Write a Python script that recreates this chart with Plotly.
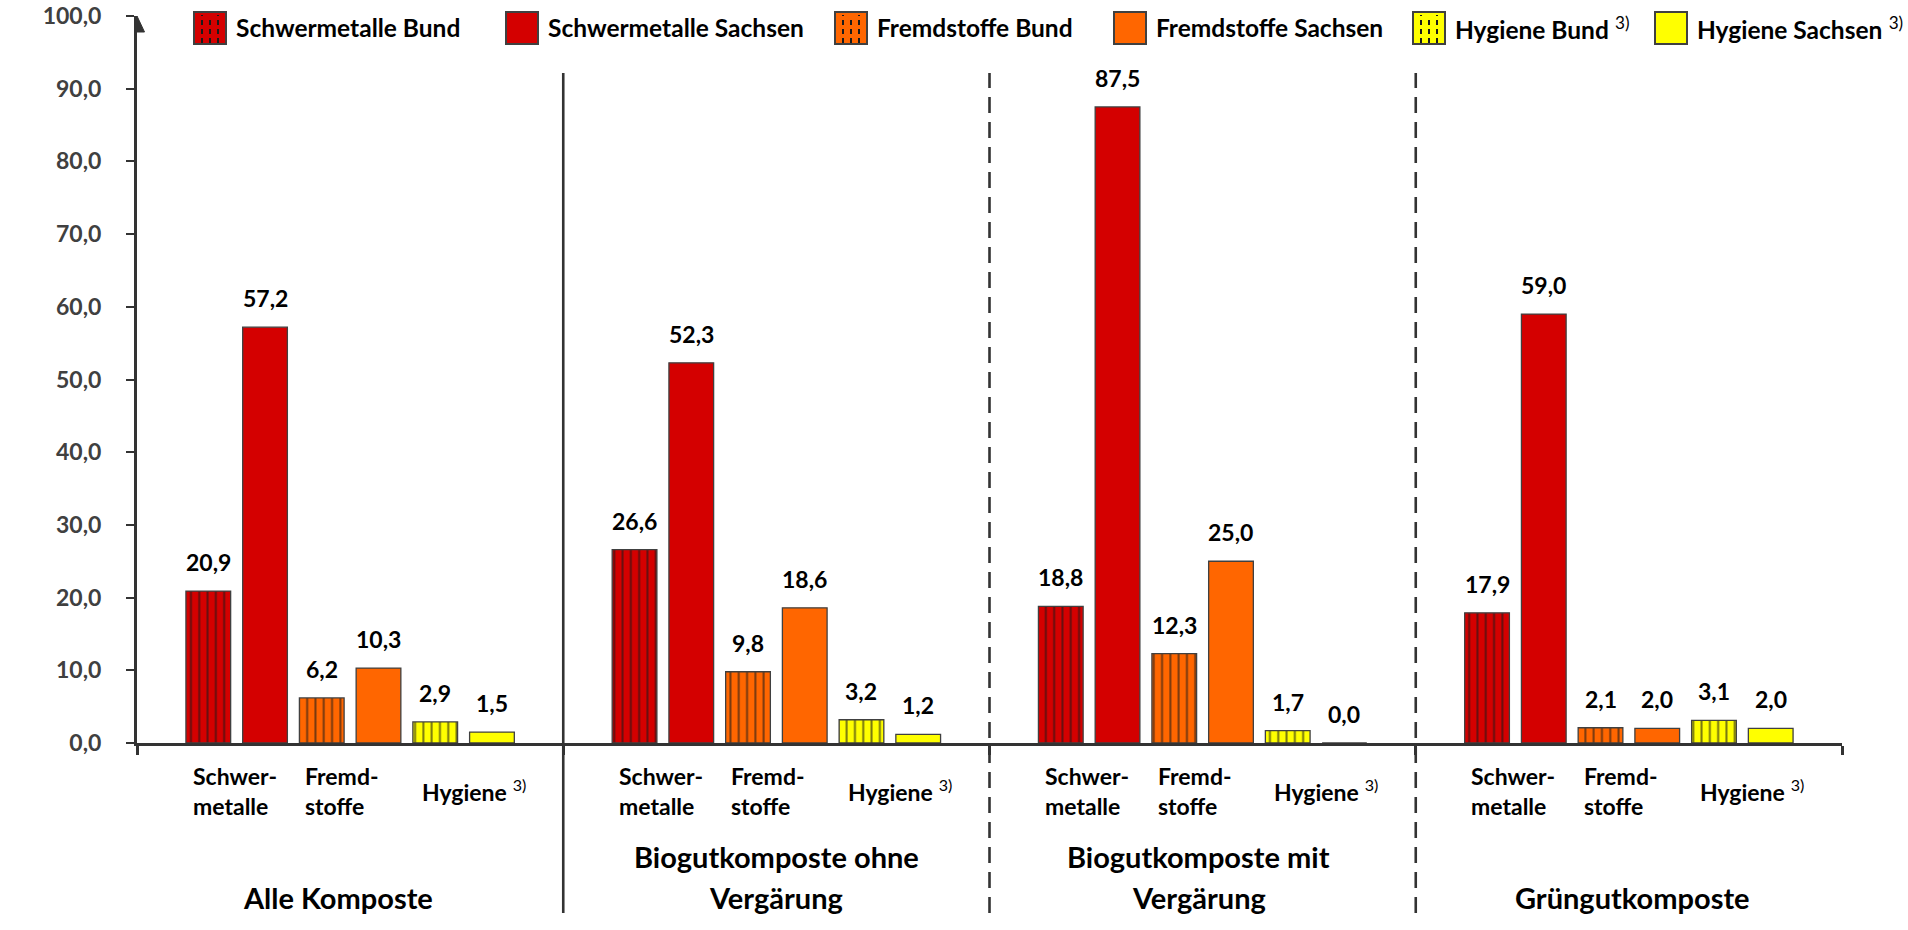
import plotly.graph_objects as go

# --- data -------------------------------------------------------------
groups = [
    "Alle Komposte",
    "Biogutkomposte ohne<br>Vergärung",
    "Biogutkomposte mit<br>Vergärung",
    "Grüngutkomposte",
]
criteria = ["Schwer-<br>metalle", "Fremd-<br>stoffe", "Hygiene"]
criteria_note = ["", "", " <sup>3)</sup>"]

series_names = [
    "Schwermetalle Bund",
    "Schwermetalle Sachsen",
    "Fremdstoffe Bund",
    "Fremdstoffe Sachsen",
    "Hygiene Bund",
    "Hygiene Sachsen",
]
schwermetalle_bund = [20.9, 26.6, 18.8, 17.9]
schwermetalle_sachsen = [57.2, 52.3, 87.5, 59.0]
fremdstoffe_bund = [6.2, 9.8, 12.3, 2.1]
fremdstoffe_sachsen = [10.3, 18.6, 25.0, 2.0]
hygiene_bund = [2.9, 3.2, 1.7, 3.1]
hygiene_sachsen = [1.5, 1.2, 0.0, 2.0]

y_ticks = list(range(0, 101, 10))
y_tick_text = [f"{v:.1f}".replace(".", ",") for v in y_ticks]

# --- styling ----------------------------------------------------------
series_values = [
    schwermetalle_bund, schwermetalle_sachsen,
    fremdstoffe_bund, fremdstoffe_sachsen,
    hygiene_bund, hygiene_sachsen,
]
fill_colors = ["#D40000", "#D40000", "#FF6600", "#FF6600", "#FFFF00", "#FFFF00"]
hatched = [True, False, True, False, True, False]
legend_suffix = ["", "", "", "", " <sup>3)</sup>", " <sup>3)</sup>"]

FONT = "Lato"
OUTLINE = "#404040"
AXIS = "#333333"

slot = 0.1331      # distance between neighbouring bars (x units)
bar_w = 0.1049     # bar width (x units)

W, H = 1908, 930
L, R, T, B = 137, 66, 16, 187
plot_w = W - L - R
plot_h = H - T - B


def px_to_paper_x(px):
    return (px - L) / plot_w


def px_to_paper_y(py):
    return (H - B - py) / plot_h


fig = go.Figure()
annotations = []
shapes = []

for s, (name, vals) in enumerate(zip(series_names, series_values)):
    xs = [g + 0.5 + (s - 2.5) * slot for g in range(len(groups))]
    marker = dict(color=fill_colors[s], line=dict(color=OUTLINE, width=1.3))
    if hatched[s]:
        marker["pattern"] = dict(shape="|", fgcolor="#1a1a1a", bgcolor=fill_colors[s],
                                 fgopacity=0.6, size=8.3, solidity=0.24)
    fig.add_trace(go.Bar(x=xs, y=vals, width=bar_w, name=name, marker=marker,
                         showlegend=False, hoverinfo="x+y"))
    for x, v in zip(xs, vals):
        annotations.append(dict(
            x=x, y=v, xref="x", yref="y", text=f"<b>{v:.1f}</b>".replace(".", ","),
            showarrow=False, yanchor="bottom", yshift=13,
            font=dict(family=FONT, size=23, color="black")))

# criterion labels under each pair of bars
crit_shift = [-2, -8, 10]
for g in range(len(groups)):
    for c, label in enumerate(criteria):
        cx = g + 0.5 + (2 * c - 2) * slot
        annotations.append(dict(
            x=cx, y=0, xref="x", yref="paper", text=f"<b>{label}</b>{criteria_note[c]}",
            showarrow=False, align="left", xanchor="center", yanchor="middle",
            yshift=-47.5, xshift=crit_shift[c],
            font=dict(family=FONT, size=23, color="black")))

# group titles, one annotation per line so the line pitch can be set
group_shift = [-12, 0, -4, 4]
line_centers = [897, 856]   # pixel rows of the last line and the line above it
for g, title in enumerate(groups):
    lines = title.split("<br>")
    for k, line in enumerate(reversed(lines)):
        annotations.append(dict(
            x=g + 0.5, y=0, xref="x", yref="paper", text=f"<b>{line}</b>",
            showarrow=False, xanchor="center", yanchor="middle",
            xshift=group_shift[g], yshift=-(line_centers[k] - (H - B)),
            font=dict(family=FONT, size=29, color="black")))

# group separators
sep_top = px_to_paper_y(73)
sep_bottom = px_to_paper_y(913)
for g, dash in zip([1, 2, 3], ["solid", "16px,9px", "16px,9px"]):
    shapes.append(dict(type="line", xref="x", yref="paper", x0=g, x1=g,
                       y0=sep_bottom, y1=sep_top,
                       line=dict(color=AXIS, width=2.6, dash=dash)))

# arrow head on top of the value axis
shapes.append(dict(type="path", xref="x", yref="y", xsizemode="pixel", ysizemode="pixel",
                   xanchor=0, yanchor=100, path="M-7.5,-16 L7.5,-16 L0,0 Z",
                   fillcolor=AXIS, line=dict(color=AXIS, width=1)))

# legend row
legend_left = [194, 506, 835, 1114, 1413, 1655]
box_top, box_bottom = 12, 44
for s, name in enumerate(series_names):
    x0 = legend_left[s]
    shapes.append(dict(type="rect", xref="paper", yref="paper",
                       x0=px_to_paper_x(x0), x1=px_to_paper_x(x0 + 32),
                       y0=px_to_paper_y(box_bottom), y1=px_to_paper_y(box_top),
                       fillcolor=fill_colors[s], line=dict(color=OUTLINE, width=2)))
    if hatched[s]:
        for k, off in enumerate([8, 16, 24]):
            start = box_top + (3 if k % 2 == 0 else 8)
            shapes.append(dict(type="line", xref="paper", yref="paper",
                               x0=px_to_paper_x(x0 + off), x1=px_to_paper_x(x0 + off),
                               y0=px_to_paper_y(box_bottom - 1), y1=px_to_paper_y(start),
                               line=dict(color="#1a1a1a", width=2, dash="5px,4px")))
    annotations.append(dict(
        x=px_to_paper_x(x0 + 40), y=px_to_paper_y(28), xref="paper", yref="paper",
        text=f"<b>{name}</b>{legend_suffix[s]}", showarrow=False,
        xanchor="left", yanchor="middle",
        font=dict(family=FONT, size=24.5, color="black")))

fig.update_layout(
    width=W, height=H,
    margin=dict(l=L, r=R, t=T, b=B, pad=0, autoexpand=False),
    paper_bgcolor="white", plot_bgcolor="white",
    barmode="overlay",
    showlegend=False,
    xaxis=dict(range=[0, 4], showgrid=False, zeroline=False, showline=True,
               linecolor=AXIS, linewidth=3, ticks="outside", tickvals=[0, 1, 2, 3, 4],
               ticklen=9, tickwidth=2.5, tickcolor=AXIS, showticklabels=False,
               automargin=False, fixedrange=True),
    yaxis=dict(range=[0, 100], showgrid=False, zeroline=False, showline=True,
               linecolor=AXIS, linewidth=3, ticks="outside", tickvals=y_ticks,
               ticktext=y_tick_text, ticklen=8, tickwidth=2, tickcolor=AXIS,
               ticklabelstandoff=20,
               tickfont=dict(family=FONT, size=23, color="#404040", weight="bold"),
               automargin=False, fixedrange=True),
    annotations=annotations,
    shapes=shapes,
)

fig.write_html("out.html")
